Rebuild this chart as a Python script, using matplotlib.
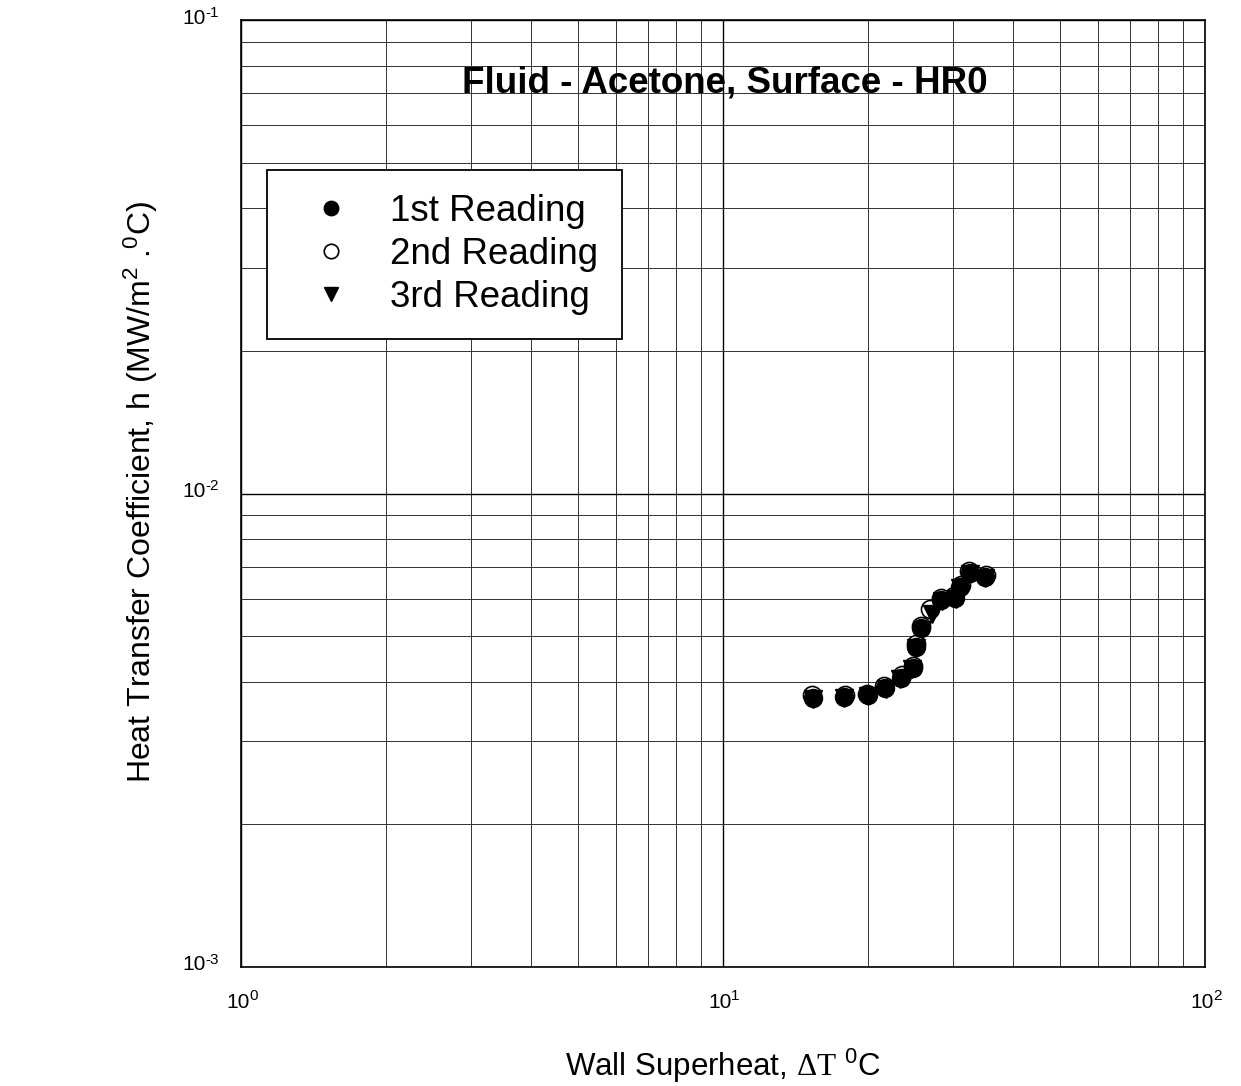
import matplotlib
matplotlib.use("Agg")
import matplotlib.pyplot as plt
from matplotlib.ticker import LogLocator, NullFormatter

plt.rcParams['font.family'] = ['Liberation Sans', 'DejaVu Sans']
plt.rcParams['mathtext.fontset'] = 'custom'
plt.rcParams['mathtext.rm'] = 'Liberation Sans'
plt.rcParams['mathtext.it'] = 'Liberation Sans:italic'
plt.rcParams['mathtext.bf'] = 'Liberation Sans:bold'
plt.rcParams['mathtext.sf'] = 'Liberation Sans'
plt.rcParams['mathtext.tt'] = 'Liberation Serif'
plt.rcParams['axes.unicode_minus'] = False

# ---- data ----
dT_1st = [15.35, 17.8, 19.96, 21.7, 23.4, 24.75, 25.15, 25.8, 28.4, 30.3, 31.0, 32.5, 35.0]
h_1st = [0.00370, 0.00372, 0.00376, 0.00388, 0.00408, 0.00428, 0.00475, 0.00519,
         0.00596, 0.00601, 0.00635, 0.00679, 0.00667]
dT_2nd = [15.3, 17.9, 19.9, 21.6, 23.5, 24.8, 25.2, 25.8, 26.9, 28.3, 30.2, 31.1, 32.4, 35.1]
h_2nd = [0.00375, 0.00375, 0.00378, 0.00392, 0.00413, 0.00432, 0.00480, 0.00525,
         0.00570, 0.00603, 0.00607, 0.00641, 0.00686, 0.00673]
dT_3rd = [15.4, 17.8, 20.0, 21.8, 23.3, 24.7, 25.1, 25.9, 27.1, 28.5, 30.4, 31.0, 32.6, 35.0]
h_3rd = [0.00368, 0.00370, 0.00374, 0.00386, 0.00405, 0.00425, 0.00472, 0.00516,
         0.00556, 0.00593, 0.00598, 0.00632, 0.00676, 0.00664]

labels = ['1st Reading', '2nd Reading', '3rd Reading']
x_decades = [1, 10, 100]
x_exps = ['0', '1', '2']
y_decades = [1e-3, 1e-2, 1e-1]
y_exps = ['-3', '-2', '-1']
title_text = 'Fluid - Acetone, Surface - HR0'
xlabel_text = r'Wall Superheat, $\mathtt{\Delta T}$ $^{0}$C'
ylabel_text = r'Heat Transfer Coefficient, h (MW/m$^{2}$ .$^{0}$C)'

fig = plt.figure(figsize=(12.41, 10.86), dpi=100)
ax = fig.add_axes([241/1241, 1-967/1086, (1205-241)/1241, (967-20)/1086])
ax.set_xscale('log')
ax.set_yscale('log')
ax.set_xlim(1, 100)
ax.set_ylim(1e-3, 1e-1)

ax.xaxis.set_minor_locator(LogLocator(base=10, subs=range(2, 10)))
ax.yaxis.set_minor_locator(LogLocator(base=10, subs=range(2, 10)))
ax.xaxis.set_minor_formatter(NullFormatter())
ax.yaxis.set_minor_formatter(NullFormatter())
ax.set_xticks(x_decades)
ax.set_yticks(y_decades)
ax.set_xticklabels([])
ax.set_yticklabels([])

ax.grid(True, which='major', color='black', lw=1.0)
ax.grid(True, which='minor', color='0.2', lw=0.7)
ax.set_axisbelow(True)
for s in ax.spines.values():
    s.set_linewidth(1.2)
    s.set_color('black')
ax.tick_params(which='both', length=0)

# tick labels: "10" with superscript exponent (hyphen minus as in original)
for xv, e in zip(x_decades, x_exps):
    ax.annotate('10', xy=(xv, 0), xycoords=('data', 'axes fraction'),
                xytext=(9, -35), textcoords='offset pixels',
                ha='right', va='center', fontsize=15, annotation_clip=False)
    ax.annotate(e, xy=(xv, 0), xycoords=('data', 'axes fraction'),
                xytext=(8, -29), textcoords='offset pixels',
                ha='left', va='center', fontsize=11, annotation_clip=False)
for yv, e in zip(y_decades, y_exps):
    ax.annotate(e, xy=(0, yv), xycoords=('axes fraction', 'data'),
                xytext=(-22, 7), textcoords='offset pixels',
                ha='right', va='center', fontsize=11, annotation_clip=False)
    ax.annotate('10', xy=(0, yv), xycoords=('axes fraction', 'data'),
                xytext=(-35, 2), textcoords='offset pixels',
                ha='right', va='center', fontsize=15, annotation_clip=False)

h2, = ax.plot(dT_2nd, h_2nd, 'o', ms=13, mfc='white', mec='black', mew=1.2, zorder=3)
h3, = ax.plot(dT_3rd, h_3rd, 'v', ms=13, mfc='black', mec='black', zorder=4)
h1, = ax.plot(dT_1st, h_1st, 'o', ms=13, mfc='black', mec='black', zorder=5)

leg = ax.legend([h1, h2, h3], labels, loc='upper left',
                bbox_to_anchor=(0.027, 0.8416), borderaxespad=0,
                fontsize=26.5, frameon=True, fancybox=False, framealpha=1,
                edgecolor='black', handletextpad=0.55, labelspacing=0.22,
                borderpad=0.65, markerscale=0.8, handlelength=2.15)
leg.get_frame().set_linewidth(1.3)

ax.text(0.502, 0.934, title_text, transform=ax.transAxes, ha='center', va='center',
        fontsize=26.5, fontweight='bold', zorder=6)

fig.text(723/1241, 1-1066/1086, xlabel_text, ha='center', va='center', fontsize=22.5)
fig.text(141/1241, 1-492/1086, ylabel_text, ha='center', va='center',
         rotation=90, fontsize=23)

fig.savefig('out.png', dpi=100)
